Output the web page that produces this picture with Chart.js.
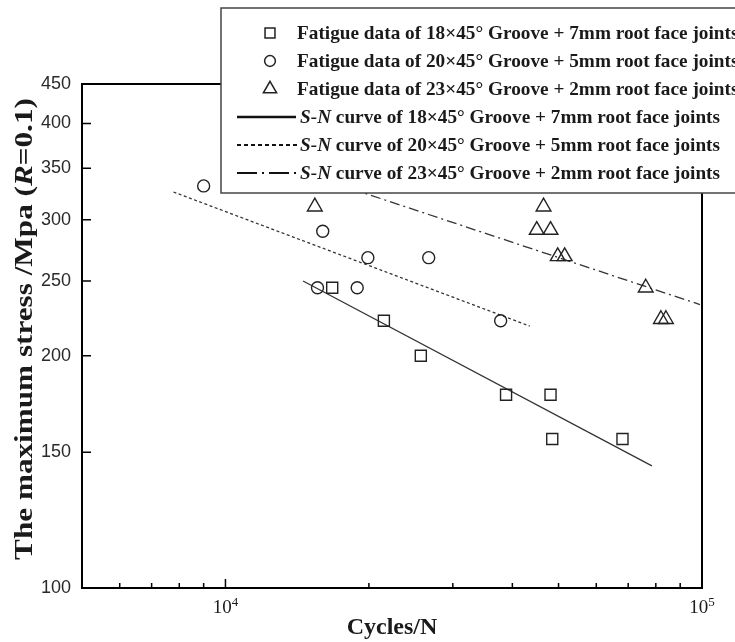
<!DOCTYPE html>
<html>
<head>
<meta charset="utf-8">
<script src="https://cdn.jsdelivr.net/npm/chart.js@4.4.1/dist/chart.umd.min.js"></script>
<style>
    html, body { margin: 0; padding: 0; background: #fff; }
    #wrap { width: 735px; height: 642px; position: relative; }
</style>
</head>
<body>
<div id="wrap"><canvas id="snChart"></canvas></div>
<script>
// fatigue test points (cycles, max stress in MPa)
const groove18Cycles = [16750, 21500, 25700, 38800, 48100, 48500, 68100];
const groove18Stress = [245, 222, 200, 178, 178, 156, 156];
const groove20Cycles = [9000, 16000, 19900, 26700, 15600, 18900, 37800];
const groove20Stress = [332, 290, 268, 268, 245, 245, 222];
const groove23Cycles = [15400, 46500, 45000, 48100, 49800, 51500, 76200, 82000, 84000];
const groove23Stress = [312, 312, 291, 291, 269, 269, 245, 223, 223];

// fitted S-N curves (end points)
const curve18Cycles = [14550, 78500];
const curve18Stress = [250, 144];
const curve20Cycles = [7780, 43500];
const curve20Stress = [326, 218.5];
const curve23Cycles = [14000, 99000];
const curve23Stress = [348, 233];

const yTickValues = [100, 150, 200, 250, 300, 350, 400, 450];
const xTickValues = [5000, 6000, 7000, 8000, 9000, 10000, 20000, 30000, 40000, 50000, 60000, 70000, 80000, 90000, 100000];
const xTickExponents = { 10000: '4', 100000: '5' };

const pointLabels = [
    'Fatigue data of 18×45° Groove + 7mm root face joints',
    'Fatigue data of 20×45° Groove + 5mm root face joints',
    'Fatigue data of 23×45° Groove + 2mm root face joints'
];
const curveLabels = [
    ' curve of 18×45° Groove + 7mm root face joints',
    ' curve of 20×45° Groove + 5mm root face joints',
    ' curve of 23×45° Groove + 2mm root face joints'
];

const SERIF = '"Liberation Serif", "Times New Roman", serif';
const INK = '#1a1a1a';

const toPoints = (xs, ys) => xs.map((x, i) => ({ x: x, y: ys[i] }));

const pointStyles = [
    { pointStyle: 'rect', radius: 7.8 },
    { pointStyle: 'circle', radius: 6 },
    { pointStyle: 'triangle', radius: 8.5 }
];
const curveDashes = [[], [3, 2.5], [10, 4, 2, 4]];
const legendDashes = [[], [4, 3], [20, 5, 2, 5]];

function scatterSet(label, xs, ys, idx) {
    return {
        label: label,
        data: toPoints(xs, ys),
        showLine: false,
        pointStyle: pointStyles[idx].pointStyle,
        pointRadius: pointStyles[idx].radius,
        pointHoverRadius: pointStyles[idx].radius,
        pointBorderWidth: 1.4,
        borderColor: '#222',
        backgroundColor: 'rgba(0,0,0,0)'
    };
}

function curveSet(label, xs, ys, idx) {
    return {
        label: label,
        data: toPoints(xs, ys),
        showLine: true,
        pointRadius: 0,
        borderWidth: 1.3,
        borderColor: '#333',
        borderDash: curveDashes[idx],
        backgroundColor: 'rgba(0,0,0,0)'
    };
}

// closes the frame, draws inward ticks and the 10^n labels from the scales
const frame = {
    id: 'frame',
    afterDatasetsDraw(chart) {
        const { ctx, chartArea: a, scales: { x, y } } = chart;
        ctx.save();
        ctx.strokeStyle = '#000';
        ctx.lineWidth = 2;
        ctx.beginPath();
        ctx.moveTo(a.left, a.top);
        ctx.lineTo(a.right, a.top);
        ctx.lineTo(a.right, a.bottom);
        ctx.stroke();

        ctx.lineWidth = 1.5;
        ctx.beginPath();
        xTickValues.forEach(v => {
            const px = x.getPixelForValue(v);
            const len = xTickExponents[v] ? 9 : 5;
            ctx.moveTo(px, a.bottom);
            ctx.lineTo(px, a.bottom - len);
        });
        yTickValues.forEach(v => {
            const py = y.getPixelForValue(v);
            ctx.moveTo(a.left, py);
            ctx.lineTo(a.left + 9, py);
        });
        ctx.stroke();

        ctx.fillStyle = INK;
        ctx.textBaseline = 'alphabetic';
        ctx.textAlign = 'left';
        Object.keys(xTickExponents).forEach(k => {
            const px = x.getPixelForValue(Number(k));
            ctx.font = '19px ' + SERIF;
            const wBase = ctx.measureText('10').width;
            ctx.font = '13px ' + SERIF;
            const wExp = ctx.measureText(xTickExponents[k]).width;
            const left = px - (wBase + wExp) / 2;
            ctx.font = '19px ' + SERIF;
            ctx.fillText('10', left, a.bottom + 25);
            ctx.font = '13px ' + SERIF;
            ctx.fillText(xTickExponents[k], left + wBase, a.bottom + 18);
        });
        ctx.restore();
    }
};

function partsWidth(ctx, parts, size) {
    let w = 0;
    parts.forEach(p => {
        ctx.font = (p.italic ? 'italic ' : '') + 'bold ' + size + 'px ' + SERIF;
        w += ctx.measureText(p.text).width;
    });
    return w;
}

function drawParts(ctx, parts, size, x, y) {
    let cx = x;
    parts.forEach(p => {
        ctx.font = (p.italic ? 'italic ' : '') + 'bold ' + size + 'px ' + SERIF;
        ctx.fillText(p.text, cx, y);
        cx += ctx.measureText(p.text).width;
    });
}

// y title with the italic R
const yTitle = {
    id: 'yTitle',
    afterDraw(chart) {
        const ctx = chart.ctx;
        const parts = [
            { text: 'The maximum stress /Mpa (' },
            { text: 'R', italic: true },
            { text: '=0.1)' }
        ];
        ctx.save();
        const base = partsWidth(ctx, parts, 20);
        const size = 20 * 462 / base;
        const w = partsWidth(ctx, parts, size);
        ctx.translate(26, 329);
        ctx.rotate(-Math.PI / 2);
        ctx.scale(1, 0.78);
        ctx.fillStyle = INK;
        ctx.textBaseline = 'middle';
        ctx.textAlign = 'left';
        drawParts(ctx, parts, size, -w / 2, 0);
        ctx.restore();
    }
};

// boxed legend laid over the upper right of the plot
const legendBox = {
    id: 'legendBox',
    afterDraw(chart) {
        const ctx = chart.ctx;
        ctx.save();
        ctx.fillStyle = '#fff';
        ctx.fillRect(221, 8, 530, 185);
        ctx.strokeStyle = '#444';
        ctx.lineWidth = 1.5;
        ctx.strokeRect(221, 8, 530, 185);

        const rowY = [33, 61, 89, 117, 145, 173];
        const size = 19;
        const sx = 420 / partsWidth(ctx, [{ text: 'S-N', italic: true }, { text: curveLabels[0] }], size);
        ctx.textBaseline = 'middle';
        ctx.textAlign = 'left';

        const writeRow = (parts, x, y) => {
            ctx.save();
            ctx.translate(x, y + 1);
            ctx.scale(sx, 1);
            ctx.fillStyle = INK;
            drawParts(ctx, parts, size, 0, 0);
            ctx.restore();
        };

        pointLabels.forEach((label, i) => {
            const y = rowY[i];
            ctx.fillStyle = '#fff';
            ctx.strokeStyle = '#222';
            ctx.setLineDash([]);
            Chart.helpers.drawPoint(ctx, {
                pointStyle: pointStyles[i].pointStyle,
                radius: pointStyles[i].radius * 0.9,
                borderWidth: 1.3,
                rotation: 0
            }, 270, y);
            writeRow([{ text: label }], 297, y);
        });

        curveLabels.forEach((label, i) => {
            const y = rowY[i + 3];
            ctx.strokeStyle = '#111';
            ctx.lineWidth = i === 0 ? 2.5 : 2;
            ctx.setLineDash(legendDashes[i]);
            ctx.beginPath();
            ctx.moveTo(237, y);
            ctx.lineTo(i === 1 ? 298 : 296, y);
            ctx.stroke();
            ctx.setLineDash([]);
            writeRow([{ text: 'S-N', italic: true }, { text: label }], 300, y);
        });
        ctx.restore();
    }
};

const ctxEl = document.getElementById('snChart');
new Chart(ctxEl, {
    type: 'scatter',
    data: {
        datasets: [
            scatterSet(pointLabels[0], groove18Cycles, groove18Stress, 0),
            scatterSet(pointLabels[1], groove20Cycles, groove20Stress, 1),
            scatterSet(pointLabels[2], groove23Cycles, groove23Stress, 2),
            curveSet('S-N' + curveLabels[0], curve18Cycles, curve18Stress, 0),
            curveSet('S-N' + curveLabels[1], curve20Cycles, curve20Stress, 1),
            curveSet('S-N' + curveLabels[2], curve23Cycles, curve23Stress, 2)
        ]
    },
    options: {
        responsive: true,
        maintainAspectRatio: false,
        animation: false,
        layout: { padding: { top: 84, right: 33, left: 0, bottom: 0 } },
        plugins: {
            legend: { display: false },
            tooltip: { enabled: false }
        },
        scales: {
            x: {
                type: 'logarithmic',
                position: 'bottom',
                min: 5000,
                max: 100000,
                afterBuildTicks: s => { s.ticks = xTickValues.map(v => ({ value: v })); },
                afterFit: s => { s.height = 54; },
                grid: { display: false },
                border: { display: true, color: '#000', width: 2 },
                ticks: {
                    autoSkip: false,
                    maxRotation: 0,
                    callback: () => ''
                },
                title: {
                    display: true,
                    text: 'Cycles/N',
                    color: INK,
                    font: { family: SERIF, size: 24, weight: 'bold' },
                    padding: { top: 0, bottom: 0 }
                }
            },
            y: {
                type: 'logarithmic',
                min: 100,
                max: 450,
                afterBuildTicks: s => { s.ticks = yTickValues.map(v => ({ value: v })); },
                afterFit: s => { s.width = 82; },
                grid: { display: false },
                border: { display: true, color: '#000', width: 2 },
                ticks: {
                    autoSkip: false,
                    padding: 3,
                    color: '#2a2a2a',
                    font: { family: '"Liberation Sans", Arial, sans-serif', size: 18 },
                    callback: v => String(v)
                }
            }
        }
    },
    plugins: [frame, yTitle, legendBox]
});
</script>
</body>
</html>
